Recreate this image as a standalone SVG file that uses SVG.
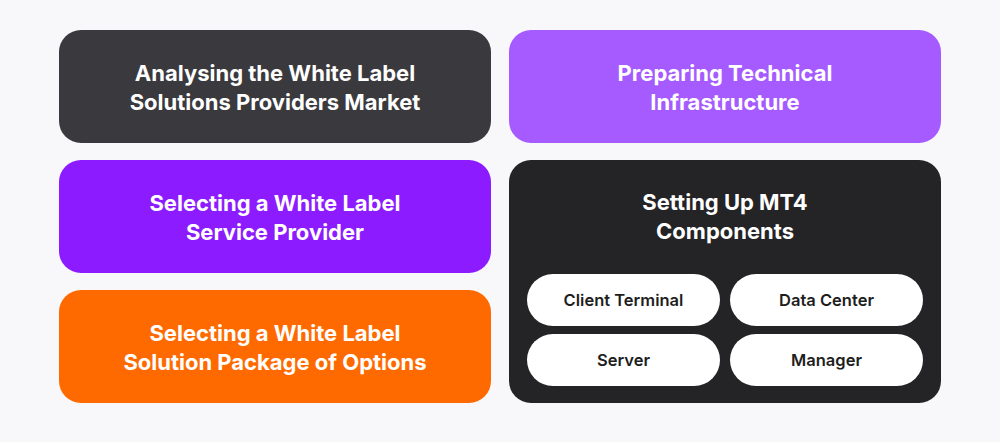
<svg xmlns="http://www.w3.org/2000/svg" width="1000" height="442" viewBox="0 0 1000 442">
<style>
.t{font-family:Inter,"Liberation Sans",sans-serif;font-weight:700;font-size:22px;fill:#fff;text-anchor:middle}
.p{font-family:Inter,"Liberation Sans",sans-serif;font-weight:600;font-size:16.5px;fill:#1e1e20;text-anchor:middle}
</style>
<rect width="1000" height="442" fill="#f8f7fa"/>
<g id="n1"><rect x="59" y="30" width="432" height="113" rx="22" fill="#3a393d"/><text class="t" x="275" y="81">Analysing the White Label</text><text class="t" x="275" y="110">Solutions Providers Market</text></g>
<g id="n2"><rect x="509" y="30" width="432" height="113" rx="22" fill="#a55bff"/><text class="t" x="725" y="81">Preparing Technical</text><text class="t" x="725" y="110">Infrastructure</text></g>
<g id="n3"><rect x="59" y="160" width="432" height="113" rx="22" fill="#8c1cff"/><text class="t" x="275" y="211">Selecting a White Label</text><text class="t" x="275" y="240">Service Provider</text></g>
<g id="n4"><rect x="59" y="290" width="432" height="113" rx="22" fill="#ff6a00"/><text class="t" x="275" y="341">Selecting a White Label</text><text class="t" x="275" y="370">Solution Package of Options</text></g>
<g id="n5"><rect x="509" y="160" width="432" height="243" rx="22" fill="#242326"/><text class="t" x="725" y="210">Setting Up MT4</text><text class="t" x="725" y="239">Components</text></g>
<g id="n6"><rect x="527" y="274" width="193" height="52" rx="26" fill="#fff"/><text class="p" x="623.5" y="306">Client Terminal</text></g>
<g id="n7"><rect x="730" y="274" width="193" height="52" rx="26" fill="#fff"/><text class="p" x="826.5" y="306">Data Center</text></g>
<g id="n8"><rect x="527" y="334" width="193" height="52" rx="26" fill="#fff"/><text class="p" x="623.5" y="366">Server</text></g>
<g id="n9"><rect x="730" y="334" width="193" height="52" rx="26" fill="#fff"/><text class="p" x="826.5" y="366">Manager</text></g>
<g id="connectors"></g>
</svg>
